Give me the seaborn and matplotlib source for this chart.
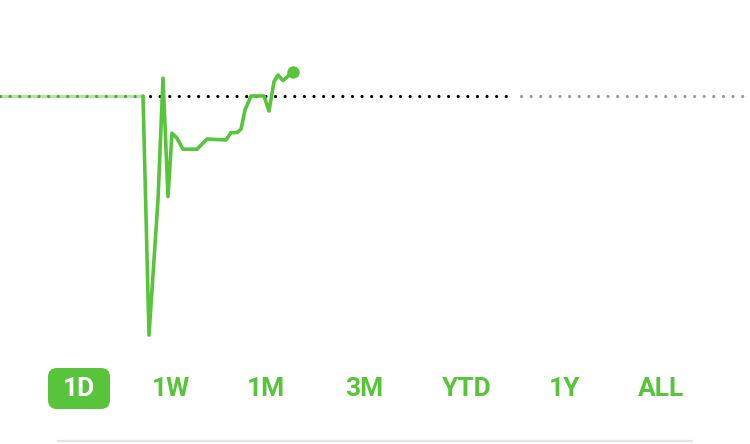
import matplotlib
matplotlib.use("Agg")
import matplotlib.pyplot as plt
from matplotlib.patches import FancyBboxPatch
import seaborn as sns
import pandas as pd

sns.set_theme(style="white")
plt.rcParams['font.family'] = ['Liberation Sans Narrow', 'Roboto', 'DejaVu Sans']

# minutes since chart start, price
pre_minutes = [0, 143]
pre_price = [100.0, 100.0]

minutes = [143, 149, 158, 163, 168, 172, 177, 183, 197, 207, 226, 231, 237,
           241, 245, 251, 264, 269, 274, 278, 283, 293]
price = [100.0, 88.05, 94.8, 100.89, 94.97, 98.14, 97.89, 97.34, 97.34,
         97.85, 97.8, 98.17, 98.17, 98.34, 99.3, 100.0, 100.0, 99.25,
         100.72, 101.05, 100.77, 101.22]

prev_close = 100.0
market_close = 512
day_end = 745

ranges = ["1D", "1W", "1M", "3M", "YTD", "1Y", "ALL"]
range_x = [79, 171, 266, 364, 467, 565, 661]

green = "#57c43b"

fig = plt.figure(figsize=(7.5, 4.44), dpi=100)
ax = fig.add_axes([0, 0, 1, 1])
ax.set_xlim(0, 750)
ax.set_ylim(82.6, 104.8)
ax.axis("off")

dots = dict(linestyle=(0, (0.01, 3.0)), linewidth=2.3, dash_capstyle="round")
ax.plot(pre_minutes, pre_price, color="#b4e4a6", linewidth=2.4)
ax.plot([0, 143], [prev_close] * 2, color="#5a9e4c", **dots)
ax.plot([150, market_close], [prev_close] * 2, color="black", **dots)
ax.plot([market_close + 9, day_end], [prev_close] * 2, color="#9a9a9a", **dots)

df = pd.DataFrame({"minute": minutes, "price": price})
sns.lineplot(data=df, x="minute", y="price", ax=ax, color=green,
             linewidth=2.6, sort=False)
ax.scatter([minutes[-1]], [price[-1]], s=80, color=green, zorder=5,
           linewidths=0)

# range selector
ui = fig.add_axes([0, 0, 1, 1], facecolor="none")
ui.set_xlim(0, 750)
ui.set_ylim(444, 0)
ui.axis("off")
ui.add_patch(FancyBboxPatch((52, 372), 54, 33,
                            boxstyle="round,pad=4,rounding_size=9",
                            facecolor=green, edgecolor="none"))
for lab, x in zip(ranges, range_x):
    ui.text(x, 389, lab, ha="center", va="center", fontsize=19,
            fontweight="bold", color="white" if lab == "1D" else green)
ui.plot([57, 693], [441, 441], color="#e3e3e7", linewidth=1.6,
        solid_capstyle="butt")

fig.savefig("out.png", dpi=100)
